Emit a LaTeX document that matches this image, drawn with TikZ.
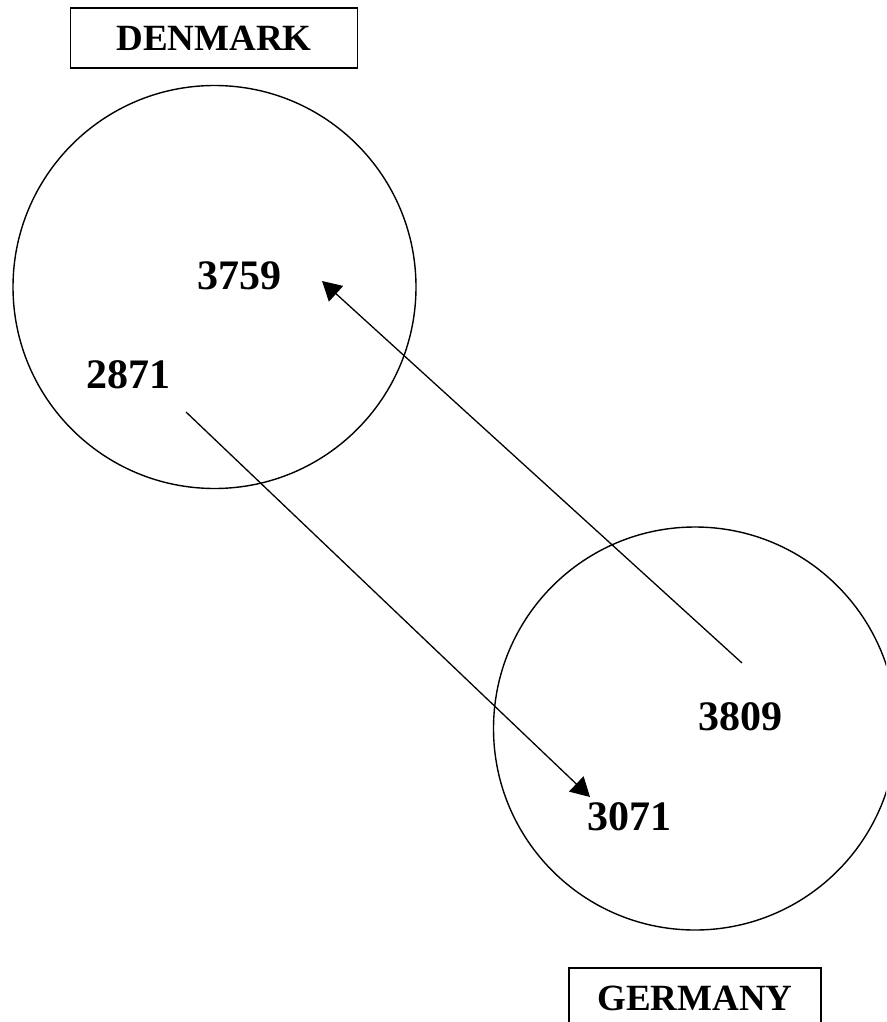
\documentclass[tikz,border=0pt]{standalone}
\usepackage{fontspec}
\setmainfont{Liberation Serif}
\usetikzlibrary{arrows.meta}

\begin{document}
\begin{tikzpicture}[x=1pt,y=-1pt,>={Triangle[length=19pt,width=21pt]},
  num/.style={font=\fontsize{42}{48}\selectfont\bfseries,inner sep=0pt},
  land/.style={draw,line width=1.6pt,inner sep=0pt,minimum height=60pt,font=\fontsize{37}{42}\selectfont\bfseries},
  ring/.style={draw,circle,line width=1.4pt,inner sep=0pt,minimum size=403pt}]
\clip (0,0) rectangle (886,1022);
% countries
\node[ring] (dkring) at (214.5,287) {};
\node[ring] (dering) at (695,728.5) {};
\node[land,minimum width=287pt] (dk) at (214,38) {DENMARK};
\node[land,minimum width=252pt] (de) at (695,998) {GERMANY};
% figures
\node[num] (n3759) at (239.5,275.5) {3759};
\node[num] (n2871) at (128.5,374.5) {2871};
\node[num] (n3809) at (740,717) {3809};
\node[num] (n3071) at (629.5,817) {3071};
% flows
\coordinate (dkout) at (186,412); \coordinate (dein) at (590,797);
\coordinate (deout) at (742,663); \coordinate (dkin) at (322,281);
\draw[->,line width=1.3pt] (dkout)--(dein);
\draw[->,line width=1.3pt] (deout)--(dkin);
\end{tikzpicture}
\end{document}
